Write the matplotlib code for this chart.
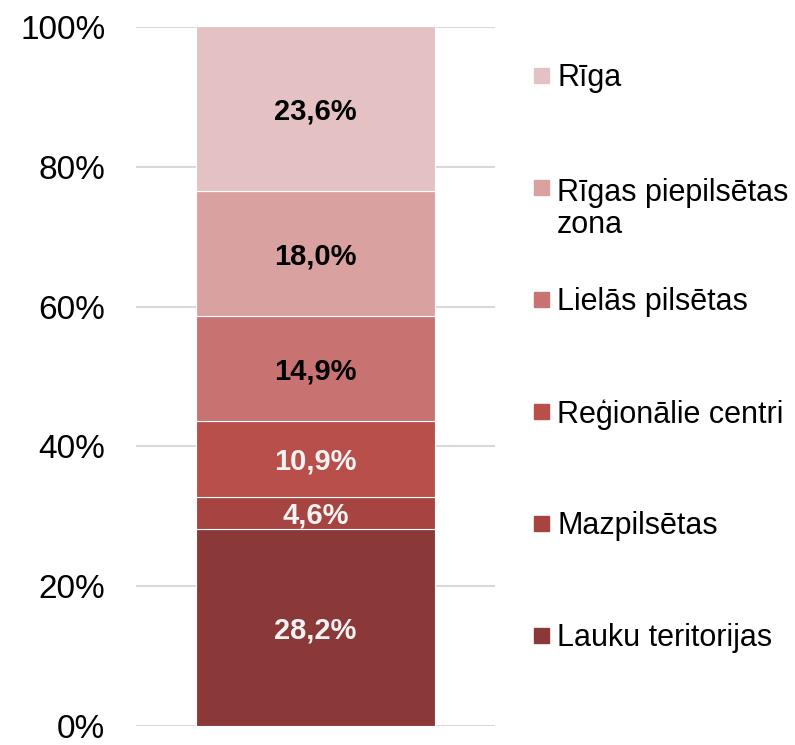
import matplotlib.pyplot as plt
from matplotlib.patches import Rectangle

plt.rcParams['font.family'] = ['Liberation Sans', 'DejaVu Sans']

# categories bottom -> top
categories = ['Lauku teritorijas', 'Mazpilsētas', 'Reģionālie centri',
              'Lielās pilsētas', 'Rīgas piepilsētas\nzona', 'Rīga']
values = [28.2, 4.6, 10.9, 14.9, 18.0, 23.6]
labels = ['28,2%', '4,6%', '10,9%', '14,9%', '18,0%', '23,6%']
colors = ['#8B3938', '#A54441', '#B84F4B', '#C87372', '#D9A2A1', '#E4C2C3']
text_colors = ['#F2F2F2', '#F2F2F2', '#F2F2F2', 'black', 'black', 'black']
yticks = [0, 20, 40, 60, 80, 100]

fig = plt.figure(figsize=(7.95, 7.45), dpi=100)
ax = fig.add_axes([136/795, 19/745, 359/795, 699/745])

bottom = 0
for v, c, lab, tc in zip(values, colors, labels, text_colors):
    ax.bar(0, v, bottom=bottom, width=0.668, color=c, edgecolor='white', linewidth=0.8, zorder=3)
    ax.text(0, bottom + v / 2, lab, ha='center', va='center_baseline', fontsize=21,
            fontweight='bold', color=tc, zorder=4)
    bottom += v

ax.set_xlim(-0.5, 0.5)
ax.set_ylim(0, 100)
ax.set_yticks(yticks)
ax.set_yticklabels([f'{t}%' for t in yticks], fontsize=24)
ax.set_xticks([])
ax.tick_params(axis='y', length=0, pad=22)
ax.yaxis.grid(True, color='#D9D9D9', linewidth=1.5, zorder=0)
for s in ax.spines.values():
    s.set_visible(False)

# legend, top entry is Rīga
for i, (name, c) in enumerate(zip(categories[::-1], colors[::-1])):
    yc = 745 - (75 + 112 * i)
    fig.add_artist(Rectangle((534/795, (yc - 8)/745), 15/795, 15/745,
                             transform=fig.transFigure, color=c))
    ty = yc + 12 - (3 if '\n' in name else 0)
    fig.text(557/795, ty/745, name, ha='left', va='top', fontsize=22,
             linespacing=1.1)

fig.savefig('out.png', dpi=100)
